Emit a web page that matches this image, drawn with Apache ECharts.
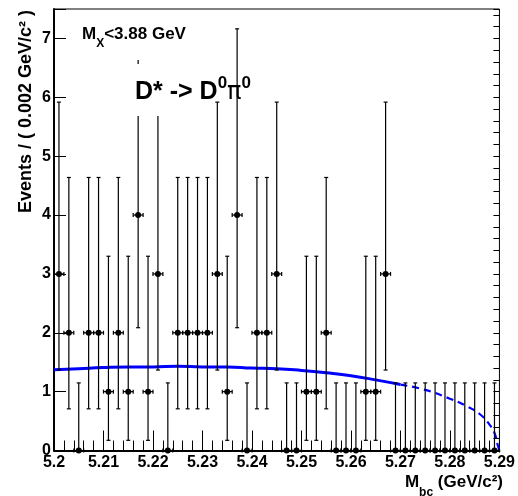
<!DOCTYPE html>
<html>
<head>
<meta charset="utf-8">
<script src="https://cdn.jsdelivr.net/npm/echarts@6/dist/echarts.min.js"></script>
<style>
  html, body { margin: 0; padding: 0; background: #fff; }
  #chart { width: 518px; height: 496px; }
</style>
</head>
<body>
<div id="chart"></div>
<script>
// bin centres (bin width 0.002 GeV/c^2)
const binCenters = [
  5.201, 5.203, 5.205, 5.207, 5.209, 5.211, 5.213, 5.215, 5.217, 5.219,
  5.221, 5.223, 5.225, 5.227, 5.229, 5.231, 5.233, 5.235, 5.237, 5.239,
  5.241, 5.243, 5.245, 5.247, 5.249, 5.251, 5.253, 5.255, 5.257, 5.259,
  5.261, 5.263, 5.265, 5.267, 5.269, 5.271, 5.273, 5.275, 5.277, 5.279,
  5.281, 5.283, 5.285, 5.287, 5.289
];
// events per bin
const counts = [
  3, 2, 0, 2, 2, 1, 2, 1, 4, 1,
  3, 0, 2, 2, 2, 2, 3, 1, 4, 0,
  2, 2, 3, 0, 0, 1, 1, 2, 0, 0,
  0, 1, 1, 3, 0, 0, 0, 0, 0, 0,
  0, 0, 0, 0, 0
];
// poisson error band edges, indexed by count
const poissonLo = [0, 0.173, 0.708, 1.367, 2.086];
const poissonHi = [1.148, 3.300, 4.638, 5.918, 7.163];

// fitted background curve
const fitX = [5.200, 5.205, 5.210, 5.215, 5.220, 5.225, 5.230, 5.235, 5.240, 5.245,
              5.250, 5.255, 5.260, 5.265, 5.270, 5.275, 5.280, 5.283, 5.286, 5.288,
              5.289, 5.2897, 5.290];
const fitY = [1.37, 1.39, 1.41, 1.42, 1.42, 1.43, 1.42, 1.42, 1.40, 1.39,
              1.36, 1.32, 1.27, 1.20, 1.12, 1.03, 0.88, 0.77, 0.62, 0.44,
              0.30, 0.08, 0.0];
const fitSolidEnd = 5.270;

const xTicks = [5.2, 5.21, 5.22, 5.23, 5.24, 5.25, 5.26, 5.27, 5.28, 5.29];
const yTicks = [0, 1, 2, 3, 4, 5, 6, 7];

const binWidth = 0.002;
const FONT = "'Liberation Sans', Arial, Helvetica, sans-serif";

const pointData = binCenters.map((x, i) => [x, counts[i], poissonLo[counts[i]], poissonHi[counts[i]]]);
const fitPts = fitX.map((x, i) => [x, fitY[i]]);
const fitSolid = fitPts.filter(p => p[0] <= fitSolidEnd + 1e-9);
const fitDashed = fitPts.filter(p => p[0] >= fitSolidEnd - 1e-9);

function renderPoint(params, api) {
  const x = api.value(0), y = api.value(1);
  const c = api.coord([x, y]);
  const lo = api.coord([x, api.value(2)]);
  const hi = api.coord([x, api.value(3)]);
  const l = api.coord([x - binWidth / 2, y]);
  const r = api.coord([x + binWidth / 2, y]);
  const st = { stroke: '#000', lineWidth: 1.2 };
  const seg = (x1, y1, x2, y2) => ({ type: 'line', shape: { x1, y1, x2, y2 }, style: st });
  return {
    type: 'group',
    children: [
      seg(lo[0], lo[1], hi[0], hi[1]),
      seg(hi[0] - 2, hi[1], hi[0] + 2, hi[1]),
      seg(lo[0] - 2, lo[1], lo[0] + 2, lo[1]),
      seg(l[0], l[1], r[0], r[1]),
      seg(l[0], l[1] - 2, l[0], l[1] + 2),
      seg(r[0], r[1] - 2, r[0], r[1] + 2),
      { type: 'circle', shape: { cx: c[0], cy: c[1], r: 3 }, style: { fill: '#000' } }
    ]
  };
}

const chart = echarts.init(document.getElementById('chart'));

const option = {
  animation: false,
  backgroundColor: '#fff',
  grid: {
    left: 54, right: 16, top: 9, bottom: 45.5,
    show: true, borderColor: '#000', borderWidth: 1
  },
  xAxis: {
    type: 'value',
    min: xTicks[0], max: xTicks[xTicks.length - 1], interval: 0.01,
    axisLine: { show: true, onZero: false, lineStyle: { color: '#000', width: 2 } },
    axisTick: { show: true, inside: true, length: 20, lineStyle: { color: '#000', width: 1 } },
    minorTick: { show: true, splitNumber: 5, length: 10, lineStyle: { color: '#000', width: 1 } },
    splitLine: { show: false },
    axisLabel: {
      color: '#000', fontFamily: FONT, fontWeight: 'bold', fontSize: 16, margin: 4,
      showMinLabel: true, showMaxLabel: true,
      formatter: v => String(+v.toFixed(2))
    }
  },
  yAxis: [
    {
      type: 'value', min: 0, max: 7.5, interval: 1,
      axisLine: { show: true, onZero: false, lineStyle: { color: '#000', width: 2 } },
      axisTick: { show: true, inside: true, length: 12, lineStyle: { color: '#000', width: 1 } },
      splitLine: { show: false },
      axisLabel: {
        color: '#000', fontFamily: FONT, fontWeight: 'bold', fontSize: 16, margin: 3,
        formatter: v => (yTicks.indexOf(Math.round(v * 100) / 100) >= 0 ? String(Math.round(v)) : '')
      }
    },
    {
      // minor ticks every 0.2
      type: 'value', min: 0, max: 7.5, interval: 0.2,
      axisLine: { show: false },
      axisTick: { show: true, inside: true, length: 6, lineStyle: { color: '#000', width: 1 } },
      axisLabel: { show: false },
      splitLine: { show: false }
    }
  ],
  series: [
    {
      type: 'line', data: fitSolid, symbol: 'none', smooth: true,
      lineStyle: { color: '#0000ff', width: 3 }, z: 3
    },
    {
      type: 'line', data: fitDashed, symbol: 'none', smooth: true,
      lineStyle: { color: '#0000ff', width: 2.2, type: [7, 5] }, z: 3
    },
    {
      type: 'custom', data: pointData, renderItem: renderPoint, z: 4, clip: false
    }
  ],
  graphic: [
    { type: 'rect', z: 100, shape: { x: 70, y: 14, width: 140, height: 46 }, style: { fill: '#fff' } },
    {
      type: 'text', z: 101, x: 82, y: 36,
      style: {
        text: '{m|M}{s|X}{m|<3.88 GeV}',
        verticalAlign: 'middle',
        rich: {
          m: { fontFamily: FONT, fontWeight: 'bold', fontSize: 17, fill: '#000', lineHeight: 20, verticalAlign: 'top' },
          s: { fontFamily: FONT, fontWeight: 'bold', fontSize: 12, fill: '#000', lineHeight: 12, verticalAlign: 'bottom', padding: [0, 0, -4, 0] }
        }
      }
    },
    { type: 'rect', z: 100, shape: { x: 100, y: 64, width: 105, height: 52 }, style: { fill: '#fff' } },
    {
      type: 'text', z: 101, x: 135, y: 90,
      style: {
        text: '{m|D* -> D}{u|0}{p|π}{u|0}',
        verticalAlign: 'middle',
        rich: {
          m: { fontFamily: FONT, fontWeight: 'bold', fontSize: 25, fill: '#000', lineHeight: 30, verticalAlign: 'bottom' },
          u: { fontFamily: FONT, fontWeight: 'bold', fontSize: 17, fill: '#000', lineHeight: 17, verticalAlign: 'top' },
          p: { fontFamily: "'DejaVu Sans', sans-serif", fontSize: 24, fill: '#000', lineHeight: 30, verticalAlign: 'bottom' }
        }
      }
    },
    {
      type: 'text', z: 101, x: 26, y: 10, rotation: Math.PI / 2,
      style: {
        text: 'Events / ( 0.002 GeV/c² )',
        fontFamily: FONT, fontWeight: 'bold', fontSize: 18, fill: '#000',
        align: 'right', verticalAlign: 'middle'
      }
    },
    {
      type: 'text', z: 101, x: 503, y: 484,
      style: {
        text: '{m|M}{s|bc}{m| (GeV/c²)}',
        align: 'right', verticalAlign: 'middle',
        rich: {
          m: { fontFamily: FONT, fontWeight: 'bold', fontSize: 17, fill: '#000', lineHeight: 20, verticalAlign: 'top' },
          s: { fontFamily: FONT, fontWeight: 'bold', fontSize: 12, fill: '#000', lineHeight: 12, verticalAlign: 'bottom', padding: [0, 0, -5, 0] }
        }
      }
    }
  ]
};

chart.setOption(option);
</script>
</body>
</html>
